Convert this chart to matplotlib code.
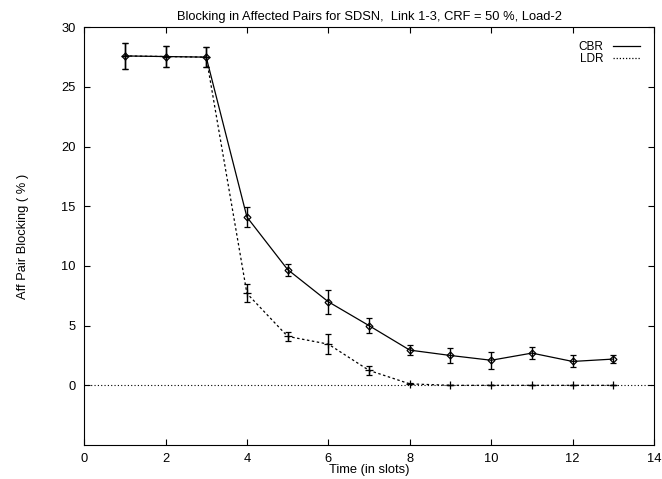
import matplotlib.pyplot as plt
from matplotlib.lines import Line2D

plt.rcParams['font.family'] = ['Liberation Sans', 'DejaVu Sans']

slots = [1, 2, 3, 4, 5, 6, 7, 8, 9, 10, 11, 12, 13]
cbr = [27.6, 27.55, 27.5, 14.1, 9.7, 7.0, 5.0, 2.95, 2.5, 2.1, 2.7, 2.0, 2.2]
cbr_err = [1.1, 0.85, 0.85, 0.85, 0.5, 1.0, 0.6, 0.45, 0.6, 0.7, 0.5, 0.5, 0.35]
ldr = [27.6, 27.55, 27.5, 7.7, 4.1, 3.45, 1.25, 0.12, 0.0, 0.0, 0.0, 0.0, 0.0]
ldr_err = [1.1, 0.85, 0.85, 0.75, 0.4, 0.85, 0.35, 0.05, 0.0, 0.0, 0.0, 0.0, 0.0]

fs = 9.3

fig = plt.figure(figsize=(6.62, 4.79), dpi=100)
ax = fig.add_axes([0.127, 0.071, 0.861, 0.872])

ax.axhline(0, color='black', lw=0.8, ls=(0, (1, 2)))

ax.errorbar(slots, ldr, yerr=ldr_err, color='black', lw=0.9, ls=(0, (2, 2)),
            marker='+', ms=6, mew=0.9, capsize=2.5, elinewidth=1.0)
ax.errorbar(slots, cbr, yerr=cbr_err, color='black', lw=0.9, ls='-',
            marker='D', ms=3.5, mfc='none', mew=0.9, capsize=2.5, elinewidth=1.0)

ax.set_xlim(0, 14)
ax.set_ylim(-5, 30)
ax.set_xticks(range(0, 15, 2))
ax.set_yticks(range(0, 31, 5))
ax.tick_params(direction='in', top=True, right=True, labelsize=fs, length=4, width=0.8, pad=6)
for s in ax.spines.values():
    s.set_linewidth(0.8)

ax.set_title('Blocking in Affected Pairs for SDSN,  Link 1-3, CRF = 50 %, Load-2', fontsize=fs, pad=5)
ax.set_xlabel('Time (in slots)', fontsize=fs, labelpad=-1)
ax.set_ylabel('Aff Pair Blocking ( % )', fontsize=fs, labelpad=23)

handles = [Line2D([], [], color='black', lw=0.9, ls='-'),
           Line2D([], [], color='black', lw=0.9, ls=(0, (1, 1.5)))]
ax.legend(handles, ['CBR', 'LDR'], loc='upper right', frameon=False, markerfirst=False,
          fontsize=8.5, handlelength=2.3, handletextpad=0.8, labelspacing=0.0,
          borderaxespad=0.8)

fig.savefig('out.png', dpi=100)
